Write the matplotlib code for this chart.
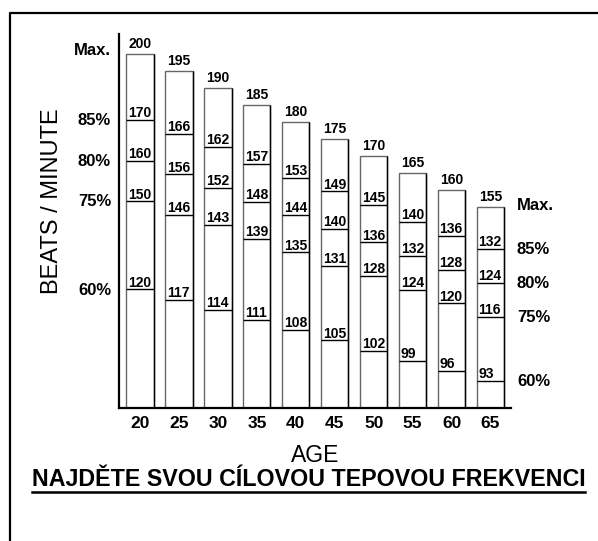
import matplotlib
matplotlib.use("Agg")
import matplotlib.pyplot as plt
from matplotlib.lines import Line2D

# ---- data ----
ages = [20, 25, 30, 35, 40, 45, 50, 55, 60, 65]
hr_max = [200, 195, 190, 185, 180, 175, 170, 165, 160, 155]
hr_85 = [170, 166, 162, 157, 153, 149, 145, 140, 136, 132]
hr_80 = [160, 156, 152, 148, 144, 140, 136, 132, 128, 124]
hr_75 = [150, 146, 143, 139, 135, 131, 128, 124, 120, 116]
hr_60 = [120, 117, 114, 111, 108, 105, 102, 99, 96, 93]
level_names = ["Max.", "85%", "80%", "75%", "60%"]
y_label = "BEATS / MINUTE"
x_label = "AGE"
title = "NAJDĚTE SVOU CÍLOVOU TEPOVOU FREKVENCI"

# ---- layout (schematic vertical offsets of each level, in bpm units) ----
level_shift = {"Max.": 0.0, "85%": 10.6, "80%": 8.6, "75%": 6.7, "60%": 10.8}
levels = {"Max.": hr_max, "85%": hr_85, "80%": hr_80, "75%": hr_75, "60%": hr_60}

FONT = "Liberation Sans"
plt.rcParams["font.family"] = [FONT, "DejaVu Sans"]

W, H = 598, 541
fig = plt.figure(figsize=(W / 100, H / 100), dpi=100)
ax_l, ax_r, ax_b, ax_t = 119, 511, 408, 34
ax = fig.add_axes([ax_l / W, 1 - ax_b / H, (ax_r - ax_l) / W, (ax_b - ax_t) / H])

ybot, ytop = 95.9, 205.9
ax.set_ylim(ybot, ytop)
ax.set_xlim(17.3, 67.63)
bw = 3.5

ax.bar(ages, [m - ybot for m in hr_max], bottom=ybot, width=bw,
       facecolor="white", edgecolor="#666666", linewidth=1.0, zorder=2)
ax.vlines([a + bw / 2 for a in ages], ybot, hr_max, color="black", lw=1.0, zorder=3)

for name in level_names[1:]:
    vals = levels[name]
    ys = [v + level_shift[name] for v in vals]
    ax.hlines(ys, [a - bw / 2 for a in ages], [a + bw / 2 for a in ages],
              color="black", lw=1.0, zorder=3)
    for a, v, y in zip(ages, vals, ys):
        ax.annotate(str(v), (a - bw / 2, y), xytext=(1.2, 2.0), textcoords="offset points",
                    ha="left", va="baseline", fontsize=10, fontweight="bold", zorder=4)

for a, m in zip(ages, hr_max):
    ax.annotate(str(m), (a, m), xytext=(0, 4.5), textcoords="offset points",
                ha="center", va="baseline", fontsize=10, fontweight="bold", zorder=4)

# level labels left (aligned to first bar) and right (aligned to last bar)
tr = ax.get_yaxis_transform()
for name in level_names:
    yl = levels[name][0] + level_shift[name]
    yr = levels[name][-1] + level_shift[name]
    dyl = 2.5 if name == "Max." else -0.5
    ax.annotate(name, (-0.0204, yl), xycoords=tr, xytext=(0, dyl), textcoords="offset points",
                ha="right", va="center", fontsize=12, fontweight="bold")
    dyr = 1.0 if name == "Max." else -0.5
    ax.annotate(name, (1.0153, yr), xycoords=tr, xytext=(0, dyr), textcoords="offset points",
                ha="left", va="center", fontsize=12, fontweight="bold")

ax.set_xticks(ages)
ax.set_xticklabels([str(a) for a in ages], fontsize=12.5, fontweight="bold")
ax.tick_params(axis="x", length=0, pad=6.0)
ax.set_yticks([])
for s in ["top", "right"]:
    ax.spines[s].set_visible(False)
ax.spines["left"].set_linewidth(1.6)
ax.spines["bottom"].set_linewidth(1.6)

fig.text(52 / W, 1 - 201 / H, y_label, rotation=90, ha="center", va="center", fontsize=17)
fig.text(315 / W, 1 - 455 / H, x_label, ha="center", va="center", fontsize=16.5)
t = fig.text(308.5 / W, 1 - 480 / H, title, ha="center", va="center", fontsize=16.75,
             fontweight="bold")

# underline title
fig.canvas.draw()
bb = t.get_window_extent(renderer=fig.canvas.get_renderer())
uy = 1 - 492 / H
fig.add_artist(Line2D([bb.x0 / W, bb.x1 / W], [uy, uy], transform=fig.transFigure,
                      color="black", lw=1.8))

# outer frame
fx, fy = 10 / W, 1 - 13 / H
fig.add_artist(Line2D([fx, fx, 1.05], [-0.05, fy, fy], transform=fig.transFigure,
                      color="black", lw=1.6))

fig.savefig("out.png", dpi=100)
